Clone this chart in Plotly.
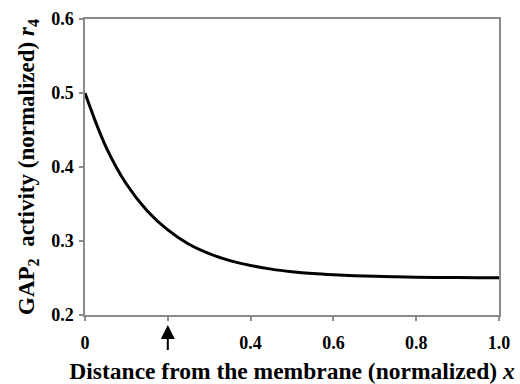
import plotly.graph_objects as go

x_vals = [0, 0.05, 0.1, 0.15, 0.2, 0.25, 0.3, 0.35, 0.4, 0.45, 0.5, 0.55, 0.6,
          0.65, 0.7, 0.75, 0.8, 0.85, 0.9, 0.95, 1.0]
r4_vals = [0.5, 0.428, 0.377, 0.341, 0.315, 0.296, 0.283, 0.2735, 0.267, 0.262,
           0.2585, 0.256, 0.2543, 0.2531, 0.2522, 0.2516, 0.2511, 0.2508, 0.2506,
           0.2504, 0.2503]
x_ticks = [0, 0.2, 0.4, 0.6, 0.8, 1.0]
x_ticklabels = ["0", "", "0.4", "0.6", "0.8", "1.0"]
y_ticks = [0.2, 0.3, 0.4, 0.5, 0.6]
y_ticklabels = ["0.2", "0.3", "0.4", "0.5", "0.6"]
arrow_x = 0.2

font = "Liberation Serif"

fig = go.Figure()
fig.add_trace(go.Scatter(x=x_vals, y=r4_vals, mode="lines",
                         line=dict(color="black", width=3, shape="spline"),
                         showlegend=False, hoverinfo="skip"))

axis_common = dict(showline=True, linecolor="#8a8a8a", linewidth=1.5, mirror=True,
                   ticks="outside", ticklen=4, tickcolor="#8a8a8a", tickwidth=1.5,
                   showgrid=False, zeroline=False, automargin=False,
                   tickfont=dict(family=font, size=18, color="black", weight="bold"))

fig.update_xaxes(range=[0, 1.0], tickvals=x_ticks, ticktext=x_ticklabels,
                 ticklabelstandoff=7,
                 title=dict(text="<b>Distance from the membrane (normalized) </b><b><i>x</i></b>",
                            font=dict(family=font, size=23.5, color="black"), standoff=10),
                 **axis_common)
fig.update_yaxes(range=[0.2, 0.6], tickvals=y_ticks, ticktext=y_ticklabels,
                 ticklabelstandoff=2,
                 title=dict(text="<b>GAP<sub>2</sub>  activity (normalized) </b><b><i>r</i><sub>4</sub></b>",
                            font=dict(family=font, size=23, color="black"), standoff=10),
                 **axis_common)

fig.add_annotation(x=arrow_x, xref="x", y=-0.034, yref="paper", text=" ",
                   font=dict(size=1),
                   showarrow=True, arrowhead=2, arrowsize=1.4, arrowwidth=2,
                   arrowcolor="black", ax=0, ay=27)

fig.update_layout(width=520, height=384,
                  margin=dict(l=85, r=21, t=19, b=69),
                  paper_bgcolor="white", plot_bgcolor="white")

fig.write_html("out.html")
